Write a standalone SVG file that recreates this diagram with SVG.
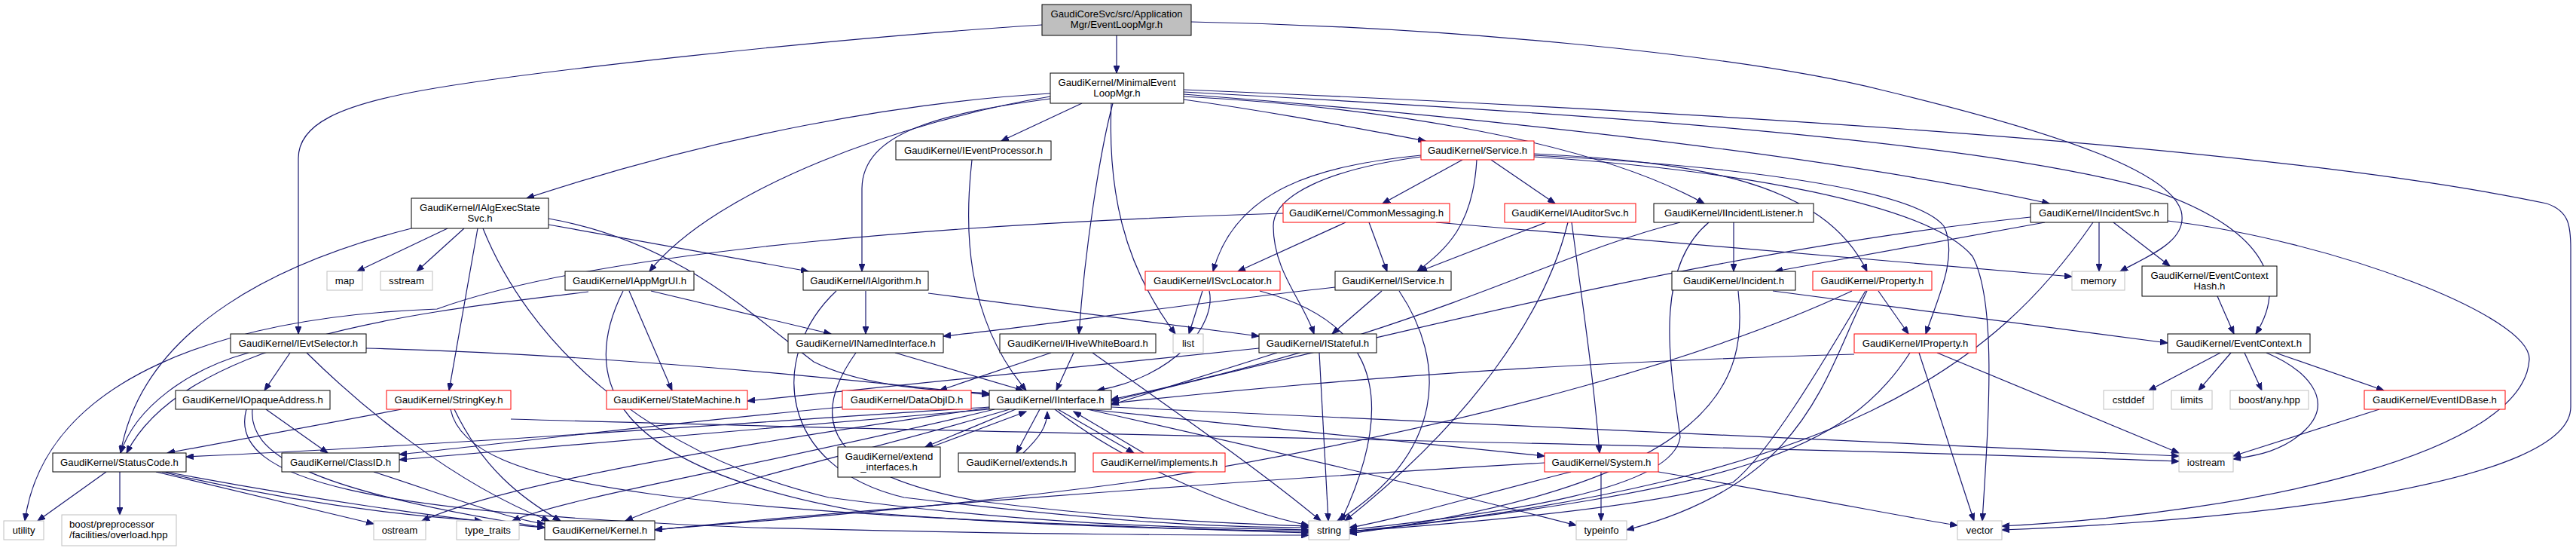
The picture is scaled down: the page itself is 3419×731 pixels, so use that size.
<svg xmlns="http://www.w3.org/2000/svg" width="3419" height="731" viewBox="0 0 3419 731">
<defs>
<marker id="a" markerWidth="11" markerHeight="8" refX="10" refY="4" orient="auto" markerUnits="userSpaceOnUse"><path d="M0,0 L10,4 L0,8 z" fill="#191970" stroke="#191970" stroke-width="1"/></marker>
</defs>
<style>
rect{fill:#fff;stroke:#000;stroke-width:1}
.r rect{stroke:#ff0000}
.g rect{stroke:#bfbfbf}
.top rect{fill:#bfbfbf}
text{font-family:"Liberation Sans",Arial,sans-serif;font-size:13.2px;fill:#000;text-anchor:middle}
.l text{text-anchor:start}
#edges path{fill:none;stroke:#191970;stroke-width:1.2;marker-end:url(#a)}
</style>
<rect x="0" y="0" width="3419" height="731" style="fill:#fff;stroke:none"/>
<g id="edges">
<path d="M1482,47 L1482,97"/>
<path d="M1383,33 C1100,51 700,95 560,120 C450,140 396,165 396,210 L396,443"/>
<path d="M1581,29 C1900,35 2300,70 2500,120 C2750,180 2880,230 2895,280 C2905,320 2850,340 2814,360"/>
<path d="M1436,137 L1329,187"/>
<path d="M1571,132 C1700,150 1800,170 1892,187"/>
<path d="M1394,124 C1200,135 950,180 699,263"/>
<path d="M1394,128 C1200,160 950,250 862,360"/>
<path d="M1394,131 C1250,150 1145,175 1144,250 L1144,360"/>
<path d="M1477,137 C1460,200 1440,330 1432,443"/>
<path d="M1475,137 C1470,250 1490,350 1560,443"/>
<path d="M1571,128 C1800,140 2100,180 2262,270"/>
<path d="M1571,125 C1900,150 2400,200 2720,270"/>
<path d="M1571,122 C2000,145 2600,180 2850,250 C3000,300 3040,370 2994,443"/>
<path d="M1571,119 C2200,145 3000,190 3380,270 C3410,280 3412,300 3412,330 L3412,540 C3412,640 3000,690 2657,703"/>
<path d="M1290,212 C1280,300 1280,420 1362,518"/>
<path d="M1941,212 L1835,270"/>
<path d="M1979,212 L2064,270"/>
<path d="M1960,212 C1955,300 1920,330 1881,360"/>
<path d="M1886,206 C1750,220 1640,250 1610,360"/>
<path d="M1886,208 C1760,225 1690,260 1690,300 C1690,360 1730,400 1744,443"/>
<path d="M2036,204 C2250,215 2420,240 2478,360"/>
<path d="M2036,206 C2300,220 2540,250 2580,300 C2600,340 2570,400 2556,443"/>
<path d="M2036,208 C2300,225 2560,270 2618,340 C2650,400 2640,550 2631,691"/>
<path d="M594,303 L474,360"/>
<path d="M616,303 L553,360"/>
<path d="M546,303 C380,345 190,430 160,601"/>
<path d="M634,303 L596,518"/>
<path d="M641,303 C700,450 850,600 1100,660 C1400,700 1600,700 1737,703"/>
<path d="M728,290 C900,320 1000,420 1080,480 C1150,515 1250,518 1313,522"/>
<path d="M728,298 L1073,360"/>
<path d="M1786,295 L1643,360"/>
<path d="M1817,295 L1841,360"/>
<path d="M1906,295 C2200,320 2500,345 2750,367"/>
<path d="M1703,283 C1300,295 800,330 580,410 C300,420 60,500 33,691"/>
<path d="M2052,295 L1884,360"/>
<path d="M2086,295 C2100,400 2115,500 2123,601"/>
<path d="M2081,295 C2050,420 1950,560 1785,691"/>
<path d="M2301,295 L2301,360"/>
<path d="M2230,295 C2050,340 1900,440 1475,530"/>
<path d="M2268,295 C2190,360 2220,500 2230,580 C2220,650 2000,680 1791,703"/>
<path d="M2786,295 L2786,360"/>
<path d="M2805,295 L2880,353"/>
<path d="M2714,295 L2356,360"/>
<path d="M2695,288 C2300,330 1900,430 1475,532"/>
<path d="M2778,295 C2650,480 2450,640 1791,705"/>
<path d="M2877,293 C3100,320 3360,420 3357,477 C3350,600 3000,680 2657,698"/>
<path d="M1596,386 L1578,443"/>
<path d="M1605,386 C1615,430 1560,500 1456,518"/>
<path d="M1672,386 C1800,420 1870,500 1780,691"/>
<path d="M1772,381 C1600,400 1400,430 1252,446"/>
<path d="M1834,386 L1768,443"/>
<path d="M1857,386 C1920,480 1920,600 1775,691"/>
<path d="M864,386 L1103,443"/>
<path d="M835,386 L892,518"/>
<path d="M781,387 C600,410 250,440 168,601"/>
<path d="M827,386 C770,500 800,620 1150,680 C1400,700 1600,702 1737,705"/>
<path d="M1149,386 L1149,443"/>
<path d="M1232,389 L1671,446"/>
<path d="M1110,386 C1020,470 1030,620 1200,660 C1450,690 1600,700 1737,700"/>
<path d="M2353,386 L2877,455"/>
<path d="M2307,386 C2320,500 2290,640 1791,708"/>
<path d="M2493,386 L2533,443"/>
<path d="M2476,386 C2420,480 2350,600 2300,640 C2200,670 2000,690 1791,705"/>
<path d="M2478,386 C2420,500 2400,640 2159,703"/>
<path d="M2458,386 C2300,460 2000,560 1500,640 C1200,680 950,695 869,703"/>
<path d="M2461,470 C2100,480 1800,500 1475,535"/>
<path d="M2535,468 C2450,600 2300,650 1791,706"/>
<path d="M2547,468 L2620,691"/>
<path d="M2571,468 L2892,601"/>
<path d="M2943,393 L2965,443"/>
<path d="M2947,468 L2852,518"/>
<path d="M2961,468 L2918,518"/>
<path d="M2979,468 L3002,518"/>
<path d="M3008,468 C3060,490 3100,530 3060,570 C3030,600 2990,605 2964,609"/>
<path d="M3020,468 L3164,518"/>
<path d="M3158,543 L2964,605"/>
<path d="M330,468 C250,490 180,540 160,601"/>
<path d="M385,468 L351,518"/>
<path d="M486,462 C800,470 1100,500 1313,524"/>
<path d="M407,468 C480,540 600,640 729,691"/>
<path d="M1188,468 L1358,518"/>
<path d="M1136,468 C1070,560 1100,630 1300,665 C1500,690 1650,695 1737,698"/>
<path d="M1425,468 L1402,518"/>
<path d="M1395,468 L1247,518"/>
<path d="M1450,468 C1580,560 1680,630 1753,691"/>
<path d="M1695,468 L1475,537"/>
<path d="M1751,468 L1763,691"/>
<path d="M1671,462 C1400,490 1150,515 992,532"/>
<path d="M353,543 L435,601"/>
<path d="M335,543 C330,600 400,650 723,700"/>
<path d="M327,543 C300,640 500,680 1000,700 C1400,710 1600,710 1737,710"/>
<path d="M533,543 L222,601"/>
<path d="M603,543 C640,620 690,660 744,691"/>
<path d="M598,543 C620,650 900,680 1737,707"/>
<path d="M678,556 C1300,575 2300,590 2892,612"/>
<path d="M1118,540 C900,560 700,585 530,603"/>
<path d="M1313,540 C1000,560 600,590 247,606"/>
<path d="M1313,543 C1000,570 700,595 530,610"/>
<path d="M1340,543 C1150,600 950,640 830,691"/>
<path d="M1320,543 C1000,620 750,660 680,691"/>
<path d="M1313,541 C900,600 650,650 560,691"/>
<path d="M1443,543 C1700,570 1900,590 2050,605"/>
<path d="M1475,540 C2000,560 2500,590 2892,605"/>
<path d="M1443,543 C1700,600 1950,660 2092,697"/>
<path d="M1400,543 C1500,620 1650,680 1737,697"/>
<path d="M1348,543 L1228,593"/>
<path d="M1236,593 L1362,546"/>
<path d="M1380,543 L1349,601"/>
<path d="M1358,601 C1380,580 1390,565 1390,546"/>
<path d="M1404,543 L1505,601"/>
<path d="M1518,601 L1425,546"/>
<path d="M141,626 L50,691"/>
<path d="M159,626 L159,683"/>
<path d="M207,626 L496,695"/>
<path d="M215,626 C400,670 550,685 640,691"/>
<path d="M220,626 C400,660 600,690 723,700"/>
<path d="M496,626 C600,660 680,690 723,695"/>
<path d="M2050,614 C1600,640 1100,680 869,703"/>
<path d="M2085,626 C1950,660 1850,690 1791,700"/>
<path d="M2125,626 L2125,691"/>
<path d="M2201,626 C2400,660 2550,690 2598,697"/>
</g>
<g id="EventLoopMgr" class="top"><rect x="1383" y="6" width="198" height="41"/><text x="1482" y="23">GaudiCoreSvc/src/Application</text><text x="1482" y="37">Mgr/EventLoopMgr.h</text></g>
<g id="MinimalEventLoopMgr"><rect x="1394" y="97" width="177" height="40"/><text x="1482.5" y="113.5">GaudiKernel/MinimalEvent</text><text x="1482.5" y="127.5">LoopMgr.h</text></g>
<g id="IEventProcessor"><rect x="1189" y="187" width="206" height="25"/><text x="1292" y="204">GaudiKernel/IEventProcessor.h</text></g>
<g id="Service" class="r"><rect x="1886" y="187" width="150" height="25"/><text x="1961" y="204">GaudiKernel/Service.h</text></g>
<g id="IAlgExecStateSvc"><rect x="546" y="263" width="182" height="40"/><text x="637" y="279.5">GaudiKernel/IAlgExecState</text><text x="637" y="293.5">Svc.h</text></g>
<g id="CommonMessaging" class="r"><rect x="1703" y="270" width="221" height="25"/><text x="1813.5" y="287">GaudiKernel/CommonMessaging.h</text></g>
<g id="IAuditorSvc" class="r"><rect x="1997" y="270" width="174" height="25"/><text x="2084" y="287">GaudiKernel/IAuditorSvc.h</text></g>
<g id="IIncidentListener"><rect x="2195" y="270" width="212" height="25"/><text x="2301" y="287">GaudiKernel/IIncidentListener.h</text></g>
<g id="IIncidentSvc"><rect x="2695" y="270" width="182" height="25"/><text x="2786" y="287">GaudiKernel/IIncidentSvc.h</text></g>
<g id="map" class="g"><rect x="434" y="360" width="47" height="25"/><text x="457.5" y="377">map</text></g>
<g id="sstream" class="g"><rect x="505" y="360" width="69" height="25"/><text x="539.5" y="377">sstream</text></g>
<g id="IAppMgrUI"><rect x="750" y="360" width="171" height="25"/><text x="835.5" y="377">GaudiKernel/IAppMgrUI.h</text></g>
<g id="IAlgorithm"><rect x="1066" y="360" width="166" height="25"/><text x="1149" y="377">GaudiKernel/IAlgorithm.h</text></g>
<g id="ISvcLocator" class="r"><rect x="1520" y="360" width="179" height="25"/><text x="1609.5" y="377">GaudiKernel/ISvcLocator.h</text></g>
<g id="IService"><rect x="1772" y="360" width="154" height="25"/><text x="1849" y="377">GaudiKernel/IService.h</text></g>
<g id="Incident"><rect x="2219" y="360" width="164" height="25"/><text x="2301" y="377">GaudiKernel/Incident.h</text></g>
<g id="Property" class="r"><rect x="2406" y="360" width="158" height="25"/><text x="2485" y="377">GaudiKernel/Property.h</text></g>
<g id="memory" class="g"><rect x="2750" y="360" width="70" height="25"/><text x="2785" y="377">memory</text></g>
<g id="EventContextHash"><rect x="2843" y="353" width="179" height="40"/><text x="2932.5" y="369.5">GaudiKernel/EventContext</text><text x="2932.5" y="383.5">Hash.h</text></g>
<g id="IEvtSelector"><rect x="306" y="443" width="180" height="25"/><text x="396" y="460">GaudiKernel/IEvtSelector.h</text></g>
<g id="INamedInterface"><rect x="1046" y="443" width="206" height="25"/><text x="1149" y="460">GaudiKernel/INamedInterface.h</text></g>
<g id="IHiveWhiteBoard"><rect x="1327" y="443" width="207" height="25"/><text x="1430.5" y="460">GaudiKernel/IHiveWhiteBoard.h</text></g>
<g id="list" class="g"><rect x="1557" y="443" width="40" height="25"/><text x="1577" y="460">list</text></g>
<g id="IStateful"><rect x="1671" y="443" width="156" height="25"/><text x="1749" y="460">GaudiKernel/IStateful.h</text></g>
<g id="IProperty" class="r"><rect x="2461" y="443" width="162" height="25"/><text x="2542" y="460">GaudiKernel/IProperty.h</text></g>
<g id="EventContext"><rect x="2877" y="443" width="189" height="25"/><text x="2971.5" y="460">GaudiKernel/EventContext.h</text></g>
<g id="IOpaqueAddress"><rect x="233" y="518" width="205" height="25"/><text x="335.5" y="535">GaudiKernel/IOpaqueAddress.h</text></g>
<g id="StringKey" class="r"><rect x="513" y="518" width="165" height="25"/><text x="595.5" y="535">GaudiKernel/StringKey.h</text></g>
<g id="StateMachine" class="r"><rect x="805" y="518" width="187" height="25"/><text x="898.5" y="535">GaudiKernel/StateMachine.h</text></g>
<g id="DataObjID" class="r"><rect x="1118" y="518" width="171" height="25"/><text x="1203.5" y="535">GaudiKernel/DataObjID.h</text></g>
<g id="IInterface"><rect x="1313" y="518" width="162" height="25"/><text x="1394" y="535">GaudiKernel/IInterface.h</text></g>
<g id="cstddef" class="g"><rect x="2792" y="518" width="66" height="25"/><text x="2825" y="535">cstddef</text></g>
<g id="limits" class="g"><rect x="2882" y="518" width="54" height="25"/><text x="2909" y="535">limits</text></g>
<g id="boost_any" class="g"><rect x="2960" y="518" width="104" height="25"/><text x="3012" y="535">boost/any.hpp</text></g>
<g id="EventIDBase" class="r"><rect x="3138" y="518" width="187" height="25"/><text x="3231.5" y="535">GaudiKernel/EventIDBase.h</text></g>
<g id="StatusCode"><rect x="70" y="601" width="177" height="25"/><text x="158.5" y="618">GaudiKernel/StatusCode.h</text></g>
<g id="ClassID"><rect x="374" y="601" width="156" height="25"/><text x="452" y="618">GaudiKernel/ClassID.h</text></g>
<g id="extend_interfaces"><rect x="1112" y="593" width="136" height="40"/><text x="1180" y="609.5">GaudiKernel/extend</text><text x="1180" y="623.5">_interfaces.h</text></g>
<g id="extends"><rect x="1272" y="601" width="155" height="25"/><text x="1349.5" y="618">GaudiKernel/extends.h</text></g>
<g id="implements" class="r"><rect x="1451" y="601" width="175" height="25"/><text x="1538.5" y="618">GaudiKernel/implements.h</text></g>
<g id="System" class="r"><rect x="2050" y="601" width="151" height="25"/><text x="2125.5" y="618">GaudiKernel/System.h</text></g>
<g id="iostream" class="g"><rect x="2892" y="601" width="72" height="25"/><text x="2928" y="618">iostream</text></g>
<g id="utility" class="g"><rect x="5" y="691" width="53" height="25"/><text x="31.5" y="708">utility</text></g>
<g id="boost_preprocessor" class="g l"><rect x="82" y="683" width="152" height="41"/><text x="92" y="700">boost/preprocessor</text><text x="92" y="714">/facilities/overload.hpp</text></g>
<g id="ostream" class="g"><rect x="496" y="691" width="69" height="25"/><text x="530.5" y="708">ostream</text></g>
<g id="type_traits" class="g"><rect x="606" y="691" width="83" height="25"/><text x="647.5" y="708">type_traits</text></g>
<g id="Kernel"><rect x="723" y="691" width="146" height="25"/><text x="796" y="708">GaudiKernel/Kernel.h</text></g>
<g id="string" class="g"><rect x="1737" y="691" width="54" height="25"/><text x="1764" y="708">string</text></g>
<g id="typeinfo" class="g"><rect x="2092" y="691" width="67" height="25"/><text x="2125.5" y="708">typeinfo</text></g>
<g id="vector" class="g"><rect x="2598" y="691" width="59" height="25"/><text x="2627.5" y="708">vector</text></g>
</svg>
